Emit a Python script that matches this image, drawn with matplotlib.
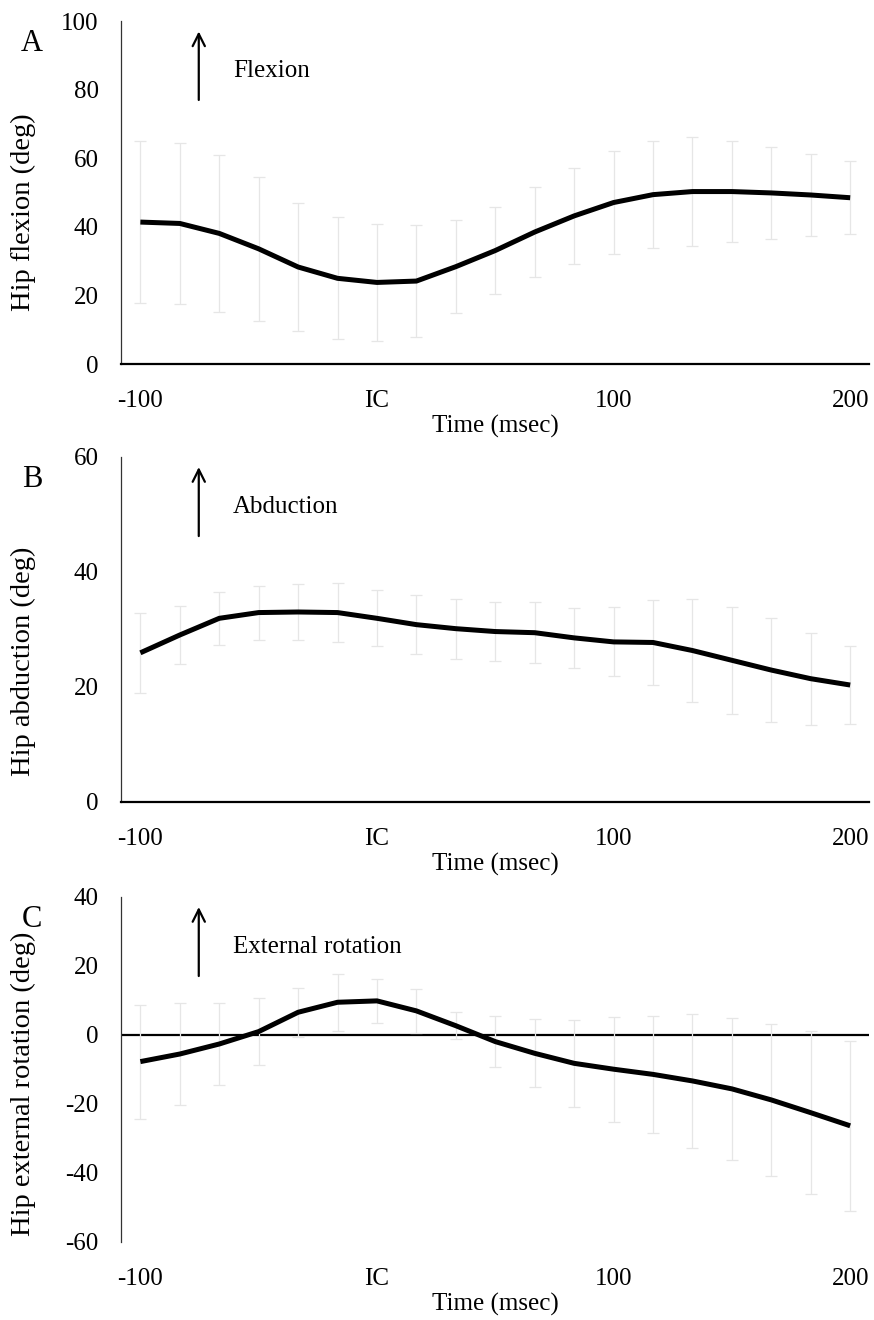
import numpy as np
import matplotlib
matplotlib.use("Agg")
import matplotlib.pyplot as plt

plt.rcParams['font.family'] = ['Liberation Serif', 'DejaVu Serif']
plt.rcParams['axes.unicode_minus'] = False

# time points, -100 to 200 msec in 19 frames
time_ms = np.linspace(-100, 200, 19)
x_ticks = [-100, 0, 100, 200]
x_ticklabels = ['-100', 'IC', '100', '200']

# A: hip flexion
flex_mean = [41.4, 41.0, 38.1, 33.6, 28.3, 25.0, 23.8, 24.2, 28.4, 33.1,
             38.5, 43.2, 47.1, 49.4, 50.3, 50.3, 49.9, 49.3, 48.5]
flex_sd = [23.6, 23.4, 23.0, 21.0, 18.8, 17.8, 17.0, 16.4, 13.6, 12.8,
           13.2, 13.9, 14.9, 15.7, 15.9, 14.7, 13.4, 11.9, 10.7]

# B: hip abduction
abd_mean = [25.9, 29.0, 31.9, 32.9, 33.0, 32.9, 31.9, 30.8, 30.1, 29.6,
            29.4, 28.5, 27.8, 27.7, 26.3, 24.6, 22.9, 21.4, 20.3]
abd_sd = [6.9, 5.0, 4.6, 4.7, 4.9, 5.1, 4.9, 5.1, 5.2, 5.1,
          5.3, 5.2, 6.0, 7.4, 9.0, 9.3, 9.1, 8.0, 6.8]

# C: hip external rotation
rot_mean = [-7.8, -5.6, -2.7, 0.9, 6.5, 9.4, 9.8, 6.9, 2.6, -2.0,
            -5.4, -8.3, -10.0, -11.5, -13.4, -15.7, -18.9, -22.6, -26.4]
rot_sd = [16.5, 14.7, 12.0, 9.6, 7.1, 8.3, 6.4, 6.3, 3.9, 7.5,
          9.9, 12.6, 15.2, 16.9, 19.3, 20.6, 22.0, 23.7, 24.7]

panels = [
    ('A', 'Hip flexion (deg)', 'Flexion', flex_mean, flex_sd, (0, 100), [0, 20, 40, 60, 80, 100]),
    ('B', 'Hip abduction (deg)', 'Abduction', abd_mean, abd_sd, (0, 60), [0, 20, 40, 60]),
    ('C', 'Hip external rotation (deg)', 'External rotation', rot_mean, rot_sd, (-60, 40),
     [-60, -40, -20, 0, 20, 40]),
]

fig = plt.figure(figsize=(8.74, 13.2), dpi=100)
bottoms = [0.7242, 0.3926, 0.0593]
heights = [0.2598, 0.2614, 0.2614]
label_y = [0.443, 0.406, 0.457]

for (letter, ylabel, direction, mean, sd, ylim, yticks), bot, h, ly in zip(panels, bottoms, heights, label_y):
    ax = fig.add_axes([0.1384, bot, 0.856, h])
    ax.errorbar(time_ms, mean, yerr=sd, fmt='none', ecolor='#e6e6e6',
                elinewidth=0.9, capsize=4, capthick=0.9, zorder=2)
    ax.plot(time_ms, mean, color='black', lw=3.6, zorder=3,
            solid_joinstyle='round', solid_capstyle='butt')
    ax.set_xlim(-108.2, 208)
    ax.set_ylim(*ylim)
    ax.set_yticks(yticks)
    ax.set_xticks(x_ticks)
    ax.set_xticklabels(x_ticklabels)
    ax.tick_params(axis='both', length=0, labelsize=18)
    ax.tick_params(axis='x', pad=19)
    ax.tick_params(axis='y', pad=16)
    for s in ['top', 'right']:
        ax.spines[s].set_visible(False)
    ax.spines['left'].set_linewidth(0.9)
    ax.spines['left'].set_color('#333333')
    if ylim[0] < 0:
        ax.spines['bottom'].set_visible(False)
        ax.axhline(0, color='black', lw=1.6, zorder=1)
    else:
        ax.spines['bottom'].set_linewidth(1.6)
    ax.set_xlabel('Time (msec)', fontsize=18, labelpad=2)
    ax.set_ylabel(ylabel, fontsize=20.5)
    ax.yaxis.set_label_coords(-0.114, ly)

    # panel letter and direction arrow
    ax.text(-0.119, 0.935, letter, transform=ax.transAxes, fontsize=22,
            ha='center', va='center')
    ax.annotate('', xy=(0.104, 0.978), xytext=(0.104, 0.762),
                xycoords='axes fraction', textcoords='axes fraction',
                arrowprops=dict(arrowstyle='->', lw=1.6, color='black',
                                mutation_scale=22))
    ax.text(0.150, 0.855, direction, transform=ax.transAxes, fontsize=18,
            ha='left', va='center')

fig.savefig('out.png', dpi=100)
